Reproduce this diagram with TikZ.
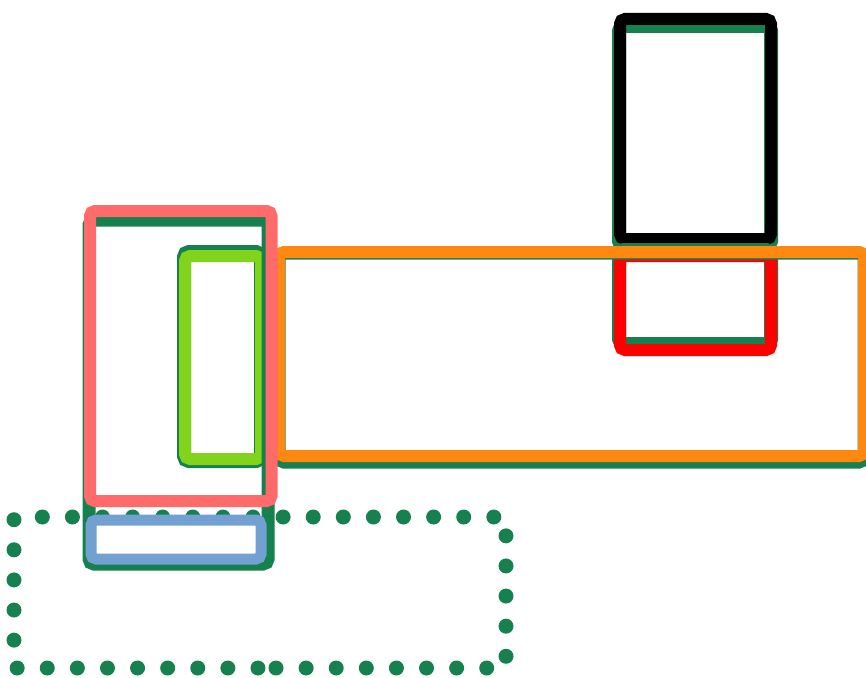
\documentclass[tikz,border=0pt]{standalone}
\usepackage{tikz}
\usepackage{xcolor}
\definecolor{basegreen}{HTML}{17804F}
\definecolor{boxorange}{HTML}{FF8810}
\definecolor{boxpink}{HTML}{FF6B6B}
\definecolor{boxlime}{HTML}{82D31B}
\definecolor{boxblue}{HTML}{72A0D0}
\tikzset{
    under/.style={draw=basegreen, line width=13pt, rounded corners=5pt},
    frame/.style={line width=12pt, rounded corners=5pt},
    dotrow/.style={draw=basegreen, line width=15pt, line cap=round, dash pattern=on 0pt off 30.1pt, rounded corners=2pt}
}

\begin{document}
\begin{tikzpicture}[x=1pt, y=-1pt]
    \useasboundingbox (0, 0) rectangle (866, 677);

    % black box on top
    \draw[under, line width=14pt] (619, 26) rectangle (771, 246);
    \draw[frame, draw=black] (620, 19) rectangle (771, 239);

    % red box below it
    \draw[under, line width=14pt] (619, 250) rectangle (771, 344);
    \draw[frame, draw=red] (620, 256) rectangle (771, 350);

    % long orange box
    \draw[under] (279, 253) rectangle (864, 462);
    \draw[frame, draw=boxorange] (279, 252) rectangle (864, 456);

    % lime box
    \draw[under, line width=14pt] (184, 252) rectangle (261, 461);
    \draw[frame, draw=boxlime] (185, 256) rectangle (261, 459);

    % pink box and its base
    \draw[under] (89, 220) rectangle (268, 564);
    \draw[frame, draw=boxpink] (90, 211) rectangle (271.5, 501);

    % dotted box
    \draw[dotrow]
    (274, 668) -- (506, 668) -- (506, 517) -- (14, 517) -- (14, 668) -- cycle;

    % blue box
    \draw[frame, line width=11pt, draw=boxblue] (91, 520) rectangle (261, 559);
\end{tikzpicture}
\end{document}
